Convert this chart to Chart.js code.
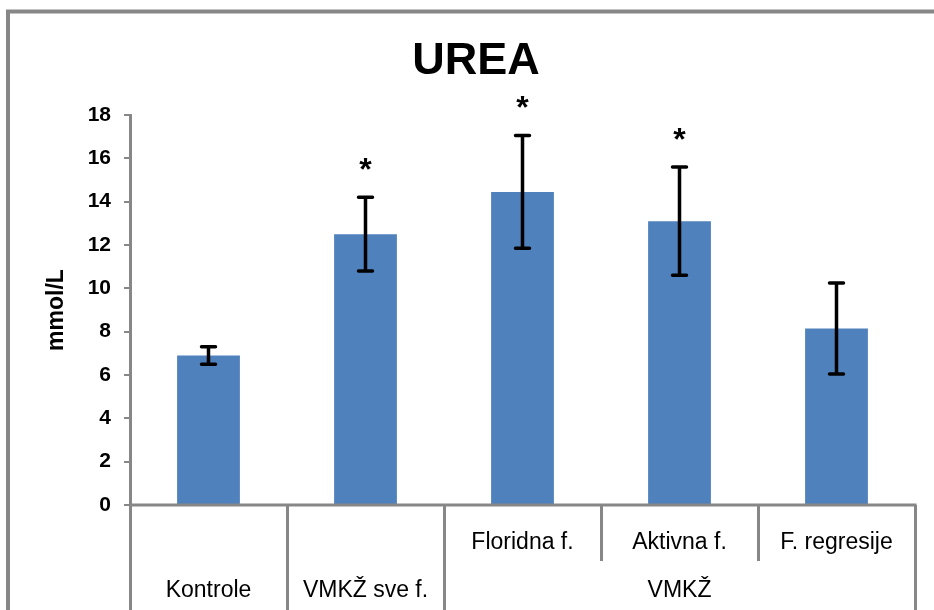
<!DOCTYPE html>
<html>
<head>
<meta charset="utf-8">
<title>UREA</title>
<script src="https://cdn.jsdelivr.net/npm/chart.js@4.4.1/dist/chart.umd.min.js"></script>
<style>
  html, body { margin: 0; padding: 0; background: #ffffff; }
  #wrap { width: 934px; height: 610px; position: relative; }
</style>
</head>
<body>
<div id="wrap"><canvas id="c" width="934" height="610"></canvas></div>
<script>
// Groups shown as bars (inner category level)
const categories = ['Kontrole', 'VMKŽ sve f.', 'Floridna f.', 'Aktivna f.', 'F. regresije'];
const innerLabels = ['', '', 'Floridna f.', 'Aktivna f.', 'F. regresije'];
// Outer category level and how many bars each one spans
const outerLabels = ['Kontrole', 'VMKŽ sve f.', 'VMKŽ'];
const outerSpans = [1, 1, 3];
// Mean urea (mmol/L) and standard deviation per group
const means = [6.9, 12.5, 14.45, 13.1, 8.15];
const errors = [0.4, 1.7, 2.6, 2.5, 2.1];
// Groups marked as significantly different from the controls
const significant = [false, true, true, true, false];
const yTicks = [0, 2, 4, 6, 8, 10, 12, 14, 16, 18];

const GRAY = '#878787';
const FONT = "'Liberation Sans', Arial, sans-serif";

const decorations = {
  id: 'decorations',
  beforeDraw(chart) {
    const ctx = chart.ctx;
    ctx.save();
    ctx.fillStyle = '#ffffff';
    ctx.fillRect(0, 0, chart.width, chart.height);
    // outer chart frame (top and left edges)
    ctx.strokeStyle = GRAY;
    ctx.lineWidth = 4;
    ctx.beginPath();
    ctx.moveTo(8, chart.height + 2);
    ctx.lineTo(8, 11.5);
    ctx.lineTo(chart.width + 2, 11.5);
    ctx.stroke();
    ctx.restore();
  },
  afterDatasetsDraw(chart) {
    const ctx = chart.ctx;
    const x = chart.scales.x;
    const y = chart.scales.y;
    const area = chart.chartArea;
    ctx.save();

    // error bars
    ctx.strokeStyle = '#000000';
    ctx.lineWidth = 3.5;
    ctx.lineCap = 'round';
    means.forEach((m, i) => {
      const cx = x.getPixelForValue(i);
      const yTop = y.getPixelForValue(m + errors[i]);
      const yBot = y.getPixelForValue(m - errors[i]);
      ctx.beginPath();
      ctx.moveTo(cx, yTop); ctx.lineTo(cx, yBot);
      ctx.moveTo(cx - 7, yTop); ctx.lineTo(cx + 7, yTop);
      ctx.moveTo(cx - 7, yBot); ctx.lineTo(cx + 7, yBot);
      ctx.stroke();
    });

    // significance marks
    ctx.fillStyle = '#000000';
    ctx.font = 'bold 32px ' + FONT;
    ctx.textAlign = 'center';
    ctx.textBaseline = 'top';
    means.forEach((m, i) => {
      if (!significant[i]) return;
      const cx = x.getPixelForValue(i);
      const yTop = y.getPixelForValue(m + errors[i]);
      ctx.fillText('*', cx, yTop - 42);
    });

    // category table under the plot
    const step = x.getPixelForValue(1) - x.getPixelForValue(0);
    const edge = i => x.getPixelForValue(i) - step / 2;
    const rowSplit = area.bottom + 56;
    ctx.strokeStyle = GRAY;
    ctx.lineWidth = 3;
    ctx.lineCap = 'butt';
    ctx.beginPath();
    ctx.moveTo(area.left - 1, area.bottom);
    ctx.lineTo(area.right + 1.5, area.bottom);
    ctx.stroke();
    // boundaries between outer groups run to the bottom
    let b = 0;
    const outerEdges = [0];
    outerSpans.forEach(s => { b += s; outerEdges.push(b); });
    for (let i = 0; i <= categories.length; i++) {
      const px = Math.round(edge(i)) + 0.5;
      const full = outerEdges.includes(i);
      ctx.beginPath();
      ctx.moveTo(px, area.bottom);
      ctx.lineTo(px, full ? chart.height + 2 : rowSplit);
      ctx.stroke();
    }

    ctx.fillStyle = '#000000';
    ctx.font = '23px ' + FONT;
    ctx.textBaseline = 'middle';
    innerLabels.forEach((t, i) => {
      if (t) ctx.fillText(t, x.getPixelForValue(i), area.bottom + 38);
    });
    let start = 0;
    outerLabels.forEach((t, k) => {
      const mid = (edge(start) + edge(start + outerSpans[k])) / 2;
      ctx.fillText(t, mid, area.bottom + 86);
      start += outerSpans[k];
    });

    // chart title
    ctx.font = 'bold 45px ' + FONT;
    ctx.fillText('UREA', 476, 62);

    // value axis title
    ctx.save();
    ctx.translate(57, (area.top + area.bottom) / 2);
    ctx.rotate(-Math.PI / 2);
    ctx.font = 'bold 23px ' + FONT;
    ctx.fillText('mmol/L', 0, 0);
    ctx.restore();

    ctx.restore();
  }
};

new Chart(document.getElementById('c'), {
  type: 'bar',
  data: {
    labels: categories,
    datasets: [{
      data: means,
      backgroundColor: '#4f81bd',
      borderWidth: 0,
      categoryPercentage: 1.0,
      barPercentage: 0.4
    }]
  },
  options: {
    responsive: false,
    animation: false,
    events: [],
    layout: { padding: { top: 115, right: 19, bottom: 105, left: 0 } },
    plugins: { legend: { display: false }, tooltip: { enabled: false }, title: { display: false } },
    scales: {
      x: { display: false },
      y: {
        min: 0,
        max: 18,
        afterBuildTicks(scale) { scale.ticks = yTicks.map(v => ({ value: v })); },
        afterFit(scale) { scale.width = 130; },
        ticks: {
          color: '#000000',
          padding: 13,
          font: { family: FONT, size: 21, weight: 'bold' }
        },
        grid: { drawOnChartArea: false, drawTicks: true, tickLength: 6, color: GRAY, lineWidth: 2 },
        border: { display: true, color: GRAY, width: 3 }
      }
    }
  },
  plugins: [decorations]
});
</script>
</body>
</html>
